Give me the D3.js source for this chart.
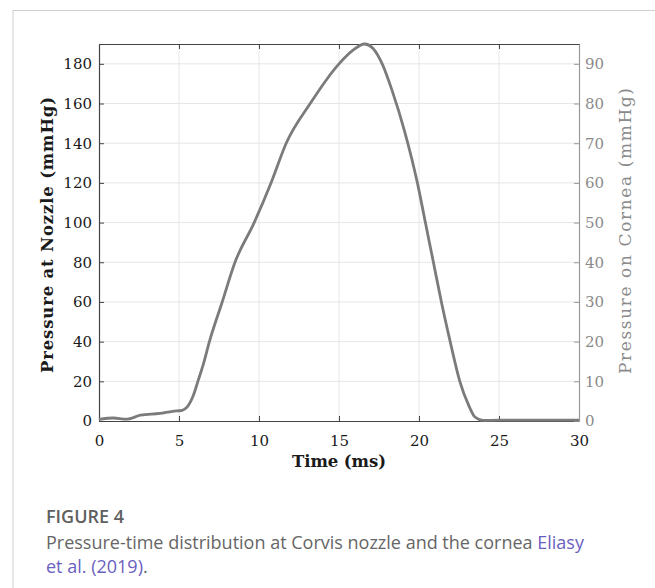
<!DOCTYPE html>
<html>
<head>
<meta charset="utf-8">
<script src="https://cdn.jsdelivr.net/npm/d3@7"></script>
<style>
  body { margin: 0; background: #fff; }
</style>
</head>
<body>
<svg id="fig" width="655" height="588"></svg>
<script>
// pressure at nozzle (mmHg) vs time (ms)
var time = [0, 0.9, 1.7, 2.6, 3.8, 4.6, 5.2, 5.5, 5.9, 6.2, 6.5, 6.9, 7.7, 8.5, 9.7, 10.8, 11.7, 13.2, 15.0, 15.9, 16.6, 17.1, 17.7, 18.3, 19.1, 19.9, 20.4, 20.9, 21.4, 21.95, 22.55, 23.1, 23.5, 24.0, 25, 30];
var pressure = [0.8, 1.5, 0.9, 2.9, 3.8, 4.9, 5.4, 7, 13, 20.5, 28, 40, 60, 80, 100, 121, 140, 160, 180, 187, 190, 188, 180, 167, 146, 120, 100, 80, 60, 40, 20, 8, 2, 0.3, 0.4, 0.4];

var xTicks = [0, 5, 10, 15, 20, 25, 30];
var yTicks = [0, 20, 40, 60, 80, 100, 120, 140, 160, 180];
var y2Ticks = [0, 10, 20, 30, 40, 50, 60, 70, 80, 90];

var SERIF = "'DejaVu Serif', serif";
var svg = d3.select("#fig");

// page frame lines
svg.append("line").attr("x1", 13).attr("x2", 13).attr("y1", 10).attr("y2", 588)
    .attr("stroke", "#d0d0d0").attr("stroke-width", 1);
svg.append("line").attr("x1", 13).attr("x2", 655).attr("y1", 10.5).attr("y2", 10.5)
    .attr("stroke", "#d0d0d0").attr("stroke-width", 1);

var m = {left: 99, right: 579, top: 44, bottom: 421};

var x = d3.scaleLinear().domain([0, 30]).range([m.left, m.right]);
var y = d3.scaleLinear().domain([0, 190]).range([m.bottom, m.top]);
var y2 = d3.scaleLinear().domain([0, 95]).range([m.bottom, m.top]);

var g = svg.append("g");

// grid
g.selectAll(".vgrid").data(xTicks.slice(1, -1)).enter().append("line")
    .attr("x1", d => x(d)).attr("x2", d => x(d))
    .attr("y1", m.top).attr("y2", m.bottom)
    .attr("stroke", "#e6e6e6").attr("stroke-width", 1);
g.selectAll(".hgrid").data(yTicks.slice(1)).enter().append("line")
    .attr("x1", m.left).attr("x2", m.right)
    .attr("y1", d => y(d)).attr("y2", d => y(d))
    .attr("stroke", "#e6e6e6").attr("stroke-width", 1);

// bottom axis
var xAxis = g.append("g").attr("transform", "translate(0," + m.bottom + ")")
    .call(d3.axisBottom(x).tickValues(xTicks).tickSizeInner(-5).tickSizeOuter(0).tickPadding(14));
// top axis (ticks only)
var xTop = g.append("g").attr("transform", "translate(0," + m.top + ")")
    .call(d3.axisTop(x).tickValues(xTicks).tickSizeInner(-5).tickSizeOuter(0).tickFormat(""));
// left axis
var yAxis = g.append("g").attr("transform", "translate(" + m.left + ",0)")
    .call(d3.axisLeft(y).tickValues(yTicks).tickSizeInner(-5).tickSizeOuter(0).tickPadding(7));
// right axis
var y2Axis = g.append("g").attr("transform", "translate(" + m.right + ",0)")
    .call(d3.axisRight(y2).tickValues(y2Ticks).tickSizeInner(-5).tickSizeOuter(0).tickPadding(6));

[xAxis, xTop, yAxis].forEach(function(a){
    a.attr("font-family", null);
    a.select(".domain").attr("stroke", "#444").attr("stroke-width", 1.2);
    a.selectAll(".tick line").attr("stroke", "#444");
    a.selectAll(".tick text").attr("fill", "#1a1a1a")
	.style("font-family", SERIF).style("font-size", "15px");
});
y2Axis.attr("font-family", null);
y2Axis.select(".domain").attr("stroke", "#999").attr("stroke-width", 1.2);
y2Axis.selectAll(".tick line").attr("stroke", "#999");
y2Axis.selectAll(".tick text").attr("fill", "#8a8a8a")
    .style("font-family", SERIF).style("font-size", "15px");

// curve
var line = d3.line()
    .x((d, i) => x(time[i]))
    .y(d => y(d))
    .curve(d3.curveMonotoneX);
g.append("path").datum(pressure)
    .attr("d", line)
    .attr("fill", "none")
    .attr("stroke", "#7b7b7b")
    .attr("stroke-width", 2.8)
    .attr("stroke-linejoin", "round");

// axis titles
svg.append("text")
    .attr("transform", "translate(53,235) rotate(-90)")
    .attr("text-anchor", "middle")
    .attr("textLength", 276).attr("lengthAdjust", "spacing")
    .style("font-family", SERIF).style("font-weight", "bold").style("font-size", "16.5px")
    .attr("fill", "#1a1a1a")
    .text("Pressure at Nozzle (mmHg)");
svg.append("text")
    .attr("transform", "translate(631,231) rotate(-90)")
    .attr("text-anchor", "middle")
    .attr("textLength", 286).attr("lengthAdjust", "spacing")
    .style("font-family", SERIF).style("font-size", "17px")
    .attr("fill", "#8a8a8a")
    .text("Pressure on Cornea (mmHg)");
svg.append("text")
    .attr("x", 339).attr("y", 467)
    .attr("text-anchor", "middle")
    .attr("textLength", 94).attr("lengthAdjust", "spacing")
    .style("font-family", SERIF).style("font-weight", "bold").style("font-size", "16.5px")
    .attr("fill", "#1a1a1a")
    .text("Time (ms)");

// caption
var cap = svg.append("g").style("font-family", "'Open Sans', sans-serif");
cap.append("text").attr("x", 46).attr("y", 523)
    .style("font-size", "18px").style("font-weight", "600").attr("fill", "#606060")
    .text("FIGURE 4");
var l1 = cap.append("text").attr("x", 46).attr("y", 549)
    .style("font-size", "18px").attr("fill", "#666");
l1.append("tspan").text("Pressure-time distribution at Corvis nozzle and the cornea ");
l1.append("tspan").attr("fill", "#6a5fbf").text("Eliasy");
var l2 = cap.append("text").attr("x", 46).attr("y", 573)
    .style("font-size", "18px").attr("fill", "#6a5fbf");
l2.append("tspan").text("et al. (2019)");
l2.append("tspan").attr("fill", "#666").text(".");
</script>
</body>
</html>
